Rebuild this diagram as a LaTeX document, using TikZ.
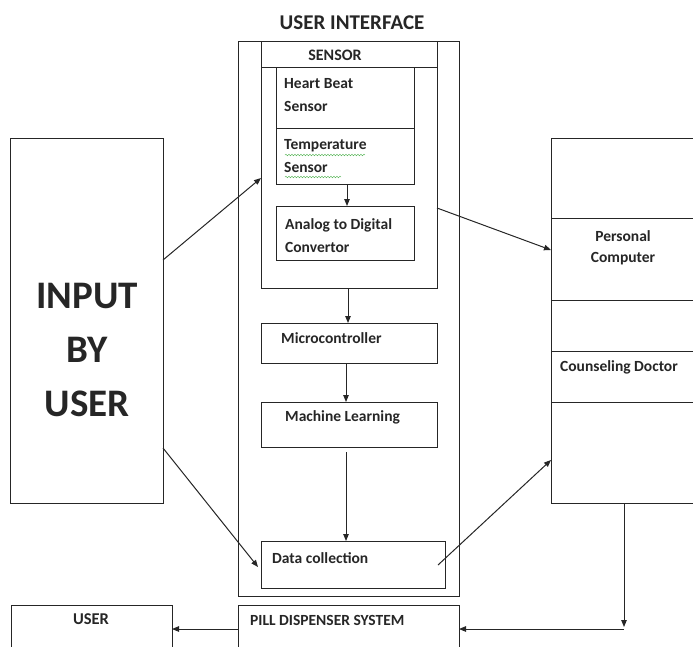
\documentclass[tikz,border=0pt]{standalone}
\usepackage{fontspec}
\setmainfont{Carlito}
\usetikzlibrary{arrows.meta,decorations.pathmorphing}
\begin{document}
\begin{tikzpicture}[x=1pt,y=-1pt,
  box/.style={draw=black!85,line width=1pt,rectangle,inner sep=0pt},
  lbl/.style={font=\bfseries\fontsize{15.5}{23}\selectfont,text=black!85,inner sep=0pt,align=left},
  conn/.style={draw=black!85,line width=1pt,-{Triangle[length=7pt,width=5.5pt]}},
  wavy/.style={draw=green!55!black!70,line width=0.4pt,decorate,decoration={snake,amplitude=0.8pt,segment length=3pt}}]
\useasboundingbox (0,0) rectangle (693,646);
\clip (0,0) rectangle (693,646);
% boxes
\node[box,anchor=north west,minimum width=221pt,minimum height=555pt] (ui) at (238,41) {};
\node[box,anchor=north west,minimum width=176pt,minimum height=247pt] (sensor) at (261,41) {};
\draw[box] (261,67) -- (437,67);
\node[box,anchor=north west,minimum width=138pt,minimum height=117pt] (hb) at (276,67) {};
\draw[box] (276,128) -- (414,128);
\node[box,anchor=north west,minimum width=138pt,minimum height=54pt] (adc) at (276,206) {};
\node[box,anchor=north west,minimum width=176pt,minimum height=40pt] (mc) at (261,323) {};
\node[box,anchor=north west,minimum width=176pt,minimum height=45pt] (ml) at (261,402) {};
\node[box,anchor=north west,minimum width=184pt,minimum height=47pt] (dc) at (261,541) {};
\node[box,anchor=north west,minimum width=221pt,minimum height=60pt] (pill) at (238,605) {};
\node[box,anchor=north west,minimum width=161pt,minimum height=60pt] (user) at (11,605) {};
\node[box,anchor=north west,minimum width=153pt,minimum height=365pt] (input) at (10,138) {};
\node[box,anchor=north west,minimum width=160pt,minimum height=365pt] (pc) at (551,138) {};
\draw[box] (551,218) -- (711,218);
\draw[box] (551,300) -- (711,300);
\draw[box] (551,351) -- (711,351);
\draw[box] (551,402) -- (711,402);
% texts
\node[lbl,font=\bfseries\fontsize{21}{24}\selectfont] (tui) at (352,23) {USER INTERFACE};
\node[lbl,font=\bfseries\fontsize{16}{23}\selectfont] (tsensor) at (335,55) {SENSOR};
\node[lbl,anchor=west] (thb) at (284,95.5) {Heart Beat\\Sensor};
\node[lbl,anchor=west] (ttemp) at (284,156.5) {Temperature\\Sensor};
\draw[wavy] (285,155) -- (365,155);
\draw[wavy] (285,177) -- (341,177);
\node[lbl,anchor=west] (tadc) at (285,235.5) {Analog to Digital\\Convertor};
\node[lbl,anchor=west] (tmc) at (281,338) {Microcontroller};
\node[lbl,anchor=west] (tml) at (285,417) {Machine Learning};
\node[lbl,anchor=west] (tdc) at (272,558) {Data collection};
\node[lbl,anchor=west] (tpill) at (250,620) {PILL DISPENSER SYSTEM};
\node[lbl,font=\bfseries\fontsize{16.5}{23}\selectfont] (tuser) at (91,619) {USER};
\node[lbl,font=\bfseries\fontsize{39}{54}\selectfont,align=center] (tinput) at (87,350) {INPUT\\BY\\USER};
\node[lbl,align=center,font=\bfseries\fontsize{15.5}{21}\selectfont] (tpc) at (623,247.5) {Personal\\Computer};
\node[lbl] (tdoc) at (619,367) {Counseling Doctor};
% connectors
\coordinate (a1) at (163,260); \coordinate (a1e) at (261,178);
\draw[conn] (a1) -- (a1e);
\coordinate (a2) at (163,448); \coordinate (a2e) at (258,567);
\draw[conn] (a2) -- (a2e);
\draw[conn] (347,184) -- (347,206);
\draw[conn] (348,288) -- (348,323);
\draw[conn] (346,363) -- (346,402);
\draw[conn] (346,452) -- (346,541);
\coordinate (b1) at (437,208); \coordinate (b1e) at (551,250);
\draw[conn] (b1) -- (b1e);
\coordinate (b2) at (438,565); \coordinate (b2e) at (551,460);
\draw[conn] (b2) -- (b2e);
\coordinate (c1) at (624,503); \coordinate (c1e) at (624,627);
\draw[conn] (c1) -- (c1e);
\draw[conn] (624,629) -- (459,629);
\draw[conn] (238,629) -- (172,629);
\end{tikzpicture}
\end{document}
